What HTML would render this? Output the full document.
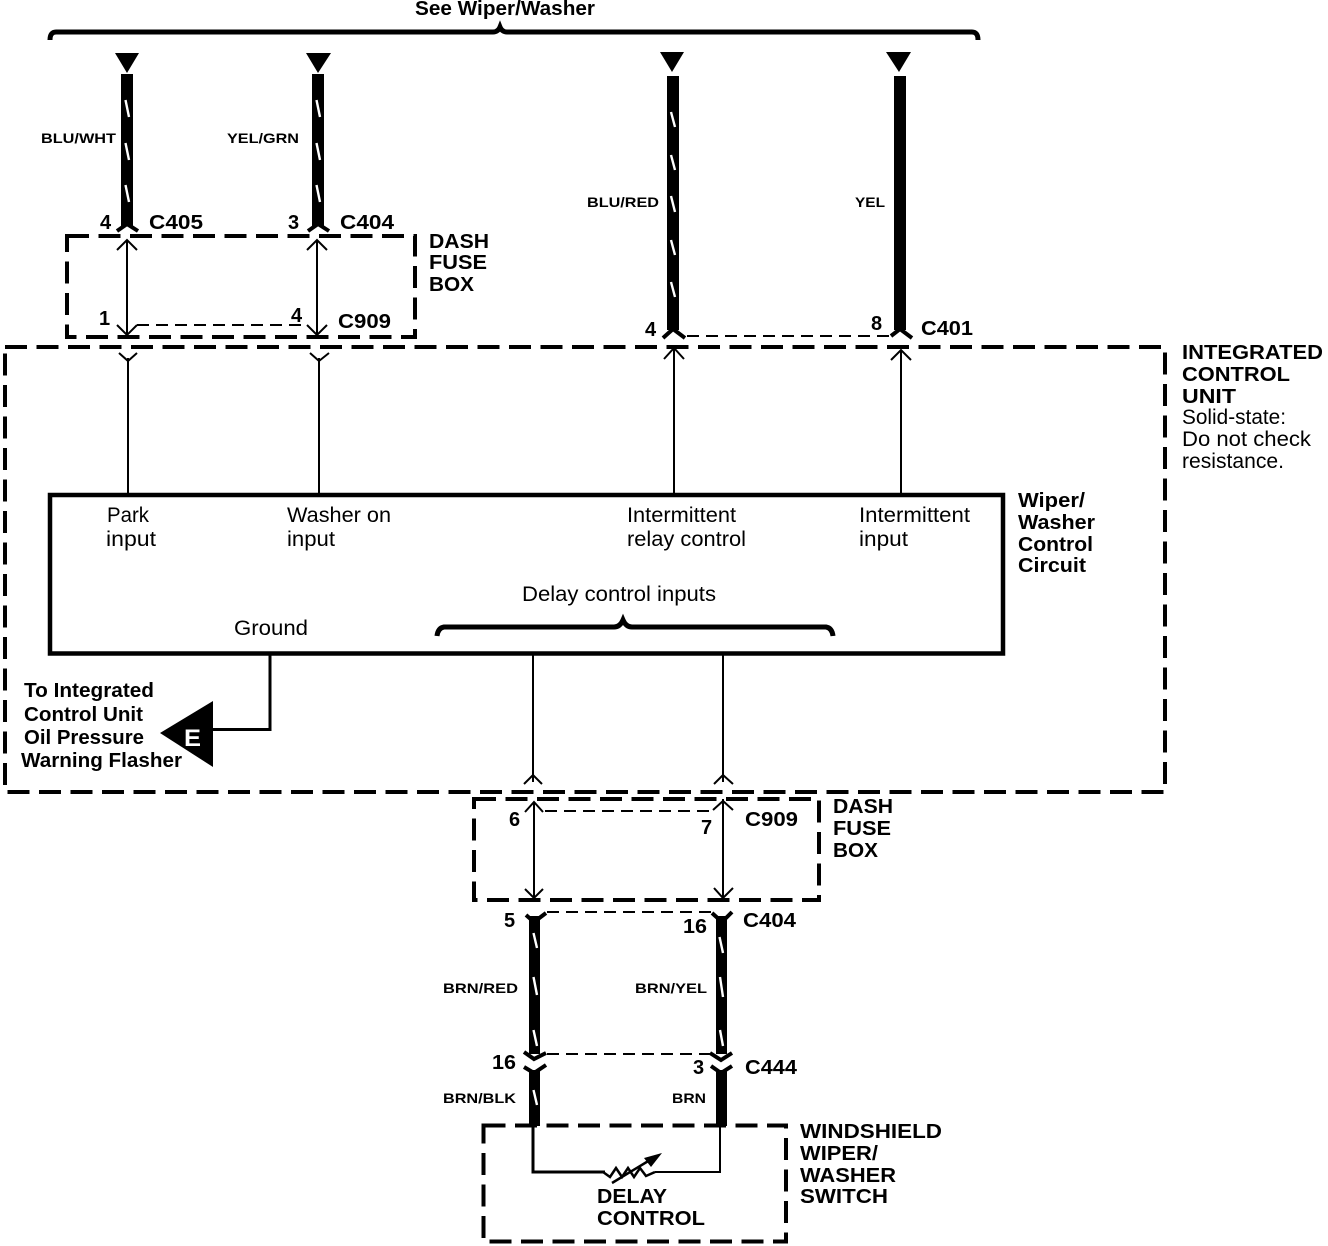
<!DOCTYPE html>
<html><head><meta charset="utf-8"><style>
html,body{margin:0;padding:0;background:#fff}
svg{display:block}
text{font-family:"Liberation Sans",sans-serif;fill:#000;white-space:pre}
.b{font-weight:bold;font-size:20px}
.r{font-size:21px}
.s{font-weight:bold;font-size:14px}
.d{fill:none;stroke:#000;stroke-width:4;stroke-dasharray:22 9.5}
.t{fill:none;stroke:#000;stroke-width:2}
.td{fill:none;stroke:#000;stroke-width:2;stroke-dasharray:12 7}
.h{fill:none;stroke:#000;stroke-width:3}
.w{stroke:#fff;stroke-width:2.4;fill:none}
</style></head><body>
<svg width="1328" height="1246" viewBox="0 0 1328 1246" xmlns="http://www.w3.org/2000/svg">
<rect width="1328" height="1246" fill="#fff"/>
<!-- top brace -->
<path d="M50 40 Q50 32 56 32 H493 Q498 32 500 27 Q502 32 507 32 H972 Q978 32 978 40" fill="none" stroke="#000" stroke-width="5"/>
<!-- top triangles -->
<path d="M115 53H139L127 73Z M306 53H331L318 73Z M660 52H684L672 72Z M886 52H911L899 72Z" fill="#000"/>
<!-- wires -->
<rect x="121" y="74" width="12" height="152" fill="#000"/>
<rect x="312" y="74" width="12" height="152" fill="#000"/>
<rect x="667" y="76" width="12" height="254" fill="#000"/>
<rect x="894" y="76" width="12" height="254" fill="#000"/>
<rect x="529" y="916" width="11" height="138" fill="#000"/>
<rect x="716" y="916" width="11" height="138" fill="#000"/>
<rect x="529" y="1070" width="11" height="56" fill="#000"/>
<rect x="716" y="1070" width="11" height="56" fill="#000"/>
<!-- white tracer marks -->
<path class="w" d="M125.500 100L129 117M125.500 143L129 160M125.500 185L129 202M316.500 100L320 117M316.500 143L320 160M316.500 185L320 202M671 112L675 127M671 155L675 170M671 196L675 212M671 240L675 255M671 282L675 297M533.500 933L537 948M533.500 977L537 995M533.500 1030L537 1046M719.500 937L723 953M720 977L723 997M720 1030L723 1046M533.500 1090L537 1105"/>
<!-- flares -->
<g fill="none" stroke="#000" stroke-width="4">
<path d="M117 231L127 224L138 231M308 231L318 224L329 231"/>
<path d="M663 338L673 329L685 338M891 336L900 329L912 338"/>
<path d="M526 915L534 922L546 913M712 913L722 922L732 912"/>
<path d="M524 1052L534 1059L546 1053M710 1053L721 1060L732 1053"/>
<path d="M524 1067L534 1073L546 1065M711 1066L721 1073L732 1066"/>
</g>
<!-- dashed boxes -->
<rect class="d" x="67" y="236" width="348" height="101"/>
<rect class="d" x="5" y="347" width="1160" height="445"/>
<rect class="d" x="474" y="799" width="345" height="101"/>
<rect class="d" x="483.500" y="1125.500" width="302.500" height="116"/>
<!-- inner box -->
<rect x="50" y="495" width="953" height="158.500" fill="none" stroke="#000" stroke-width="4.500"/>
<!-- thin lines -->
<path class="t" d="M127 240V335M117 250L127 240L137 250M117 325L127 335L137 325"/>
<path class="t" d="M317 240V335M307 250L317 240L327 250M307 325L317 335L327 325"/>
<path class="td" d="M137 325H308"/>
<path class="td" d="M687 336H892"/>
<path class="t" d="M128 358V493M119 353L128 361L137 353"/>
<path class="t" d="M319 358V493M310 353L319 361L329 353"/>
<path class="t" d="M674 348V493M664 359L674 348L684 359"/>
<path class="t" d="M901 350V493M891 360L901 350L911 360"/>
<path class="t" d="M533 655V782M524 784L533 775L542 784"/>
<path class="t" d="M723 655V782M714 784L723 775L733 784"/>
<path class="t" d="M534 802V898M525 812L534 802L543 812M525 889L534 898L543 889"/>
<path class="t" d="M723 799V898M714 888L723 898L733 888M713 810L723 801L733 810"/>
<path class="td" d="M545 811H715"/>
<path class="td" d="M547 912H712"/>
<path class="td" d="M547 1054H712"/>
<!-- ground -->
<path class="h" d="M270 655V729.500H213"/>
<path d="M160 733L213 701V767Z" fill="#000"/>
<text x="184" y="746" font-size="24" font-weight="bold" style="fill:#fff" textLength="17" lengthAdjust="spacingAndGlyphs">E</text>
<!-- delay brace -->
<path d="M437 636Q438 628 444 627H614Q620 627 623 620Q626 627 632 627H826Q832 628 833 636" fill="none" stroke="#000" stroke-width="5"/>
<!-- delay control -->
<path class="h" d="M533 1125V1172H605"/>
<path class="t" d="M720 1126V1172H655"/>
<path fill="none" stroke="#000" stroke-width="2.500" d="M603 1172L610 1177L616 1168L622 1177L628 1168L634 1177L640 1168L646 1176L655 1172"/>
<path fill="none" stroke="#000" stroke-width="2.500" d="M612 1183L650 1160"/>
<path d="M644 1158L662 1153L651 1167Z" fill="#000"/>
<!-- text -->
<text class="b" x="415" y="15" textLength="180" lengthAdjust="spacingAndGlyphs">See Wiper/Washer</text>
<text class="s" x="41" y="143" textLength="75" lengthAdjust="spacingAndGlyphs">BLU/WHT</text>
<text class="s" x="227" y="143" textLength="72" lengthAdjust="spacingAndGlyphs">YEL/GRN</text>
<text class="s" x="587" y="207" textLength="72" lengthAdjust="spacingAndGlyphs">BLU/RED</text>
<text class="s" x="855" y="207" textLength="30" lengthAdjust="spacingAndGlyphs">YEL</text>
<text class="b" x="100" y="229">4</text>
<text class="b" x="149" y="229" textLength="54" lengthAdjust="spacingAndGlyphs">C405</text>
<text class="b" x="288" y="229">3</text>
<text class="b" x="340" y="229" textLength="54" lengthAdjust="spacingAndGlyphs">C404</text>
<text class="b" x="429" y="248" textLength="60" lengthAdjust="spacingAndGlyphs">DASH</text>
<text class="b" x="429" y="269" textLength="58" lengthAdjust="spacingAndGlyphs">FUSE</text>
<text class="b" x="429" y="291" textLength="45" lengthAdjust="spacingAndGlyphs">BOX</text>
<text class="b" x="99" y="325">1</text>
<text class="b" x="291" y="322">4</text>
<text class="b" x="338" y="328" textLength="53" lengthAdjust="spacingAndGlyphs">C909</text>
<text class="b" x="645" y="336">4</text>
<text class="b" x="871" y="330">8</text>
<text class="b" x="921" y="335" textLength="52" lengthAdjust="spacingAndGlyphs">C401</text>
<text class="b" x="1182" y="359" textLength="141" lengthAdjust="spacingAndGlyphs">INTEGRATED</text>
<text class="b" x="1182" y="381" textLength="108" lengthAdjust="spacingAndGlyphs">CONTROL</text>
<text class="b" x="1182" y="403" textLength="54" lengthAdjust="spacingAndGlyphs">UNIT</text>
<text class="r" x="1182" y="424" textLength="104" lengthAdjust="spacingAndGlyphs">Solid-state:</text>
<text class="r" x="1182" y="446" textLength="129" lengthAdjust="spacingAndGlyphs">Do not check</text>
<text class="r" x="1182" y="468" textLength="102" lengthAdjust="spacingAndGlyphs">resistance.</text>
<text class="r" x="107" y="522" textLength="42" lengthAdjust="spacingAndGlyphs">Park</text>
<text class="r" x="106" y="546" textLength="50" lengthAdjust="spacingAndGlyphs">input</text>
<text class="r" x="287" y="522" textLength="104" lengthAdjust="spacingAndGlyphs">Washer on</text>
<text class="r" x="287" y="546" textLength="48" lengthAdjust="spacingAndGlyphs">input</text>
<text class="r" x="627" y="522" textLength="109" lengthAdjust="spacingAndGlyphs">Intermittent</text>
<text class="r" x="627" y="546" textLength="119" lengthAdjust="spacingAndGlyphs">relay control</text>
<text class="r" x="859" y="522" textLength="111" lengthAdjust="spacingAndGlyphs">Intermittent</text>
<text class="r" x="859" y="546" textLength="49" lengthAdjust="spacingAndGlyphs">input</text>
<text class="b" x="1018" y="507" textLength="67" lengthAdjust="spacingAndGlyphs">Wiper/</text>
<text class="b" x="1018" y="529" textLength="77" lengthAdjust="spacingAndGlyphs">Washer</text>
<text class="b" x="1018" y="551" textLength="75" lengthAdjust="spacingAndGlyphs">Control</text>
<text class="b" x="1018" y="572" textLength="68" lengthAdjust="spacingAndGlyphs">Circuit</text>
<text class="r" x="522" y="601" textLength="194" lengthAdjust="spacingAndGlyphs">Delay control inputs</text>
<text class="r" x="234" y="635" textLength="74" lengthAdjust="spacingAndGlyphs">Ground</text>
<text class="b" x="24" y="697" textLength="130" lengthAdjust="spacingAndGlyphs">To Integrated</text>
<text class="b" x="24" y="721" textLength="119" lengthAdjust="spacingAndGlyphs">Control Unit</text>
<text class="b" x="24" y="744" textLength="120" lengthAdjust="spacingAndGlyphs">Oil Pressure</text>
<text class="b" x="21" y="767" textLength="161" lengthAdjust="spacingAndGlyphs">Warning Flasher</text>
<text class="b" x="509" y="826">6</text>
<text class="b" x="701" y="834">7</text>
<text class="b" x="745" y="826" textLength="53" lengthAdjust="spacingAndGlyphs">C909</text>
<text class="b" x="833" y="813" textLength="60" lengthAdjust="spacingAndGlyphs">DASH</text>
<text class="b" x="833" y="835" textLength="58" lengthAdjust="spacingAndGlyphs">FUSE</text>
<text class="b" x="833" y="857" textLength="45" lengthAdjust="spacingAndGlyphs">BOX</text>
<text class="b" x="504" y="927">5</text>
<text class="b" x="683" y="933" textLength="24" lengthAdjust="spacingAndGlyphs">16</text>
<text class="b" x="743" y="927" textLength="53" lengthAdjust="spacingAndGlyphs">C404</text>
<text class="s" x="443" y="993" textLength="75" lengthAdjust="spacingAndGlyphs">BRN/RED</text>
<text class="s" x="635" y="993" textLength="72" lengthAdjust="spacingAndGlyphs">BRN/YEL</text>
<text class="b" x="492" y="1069" textLength="24" lengthAdjust="spacingAndGlyphs">16</text>
<text class="b" x="693" y="1074">3</text>
<text class="b" x="745" y="1074" textLength="52" lengthAdjust="spacingAndGlyphs">C444</text>
<text class="s" x="443" y="1103" textLength="73" lengthAdjust="spacingAndGlyphs">BRN/BLK</text>
<text class="s" x="672" y="1103" textLength="34" lengthAdjust="spacingAndGlyphs">BRN</text>
<text class="b" x="800" y="1138" textLength="142" lengthAdjust="spacingAndGlyphs">WINDSHIELD</text>
<text class="b" x="800" y="1160" textLength="78" lengthAdjust="spacingAndGlyphs">WIPER/</text>
<text class="b" x="800" y="1182" textLength="96" lengthAdjust="spacingAndGlyphs">WASHER</text>
<text class="b" x="800" y="1203" textLength="88" lengthAdjust="spacingAndGlyphs">SWITCH</text>
<text class="b" x="597" y="1203" textLength="70" lengthAdjust="spacingAndGlyphs">DELAY</text>
<text class="b" x="597" y="1225" textLength="108" lengthAdjust="spacingAndGlyphs">CONTROL</text>
</svg>
</body></html>
